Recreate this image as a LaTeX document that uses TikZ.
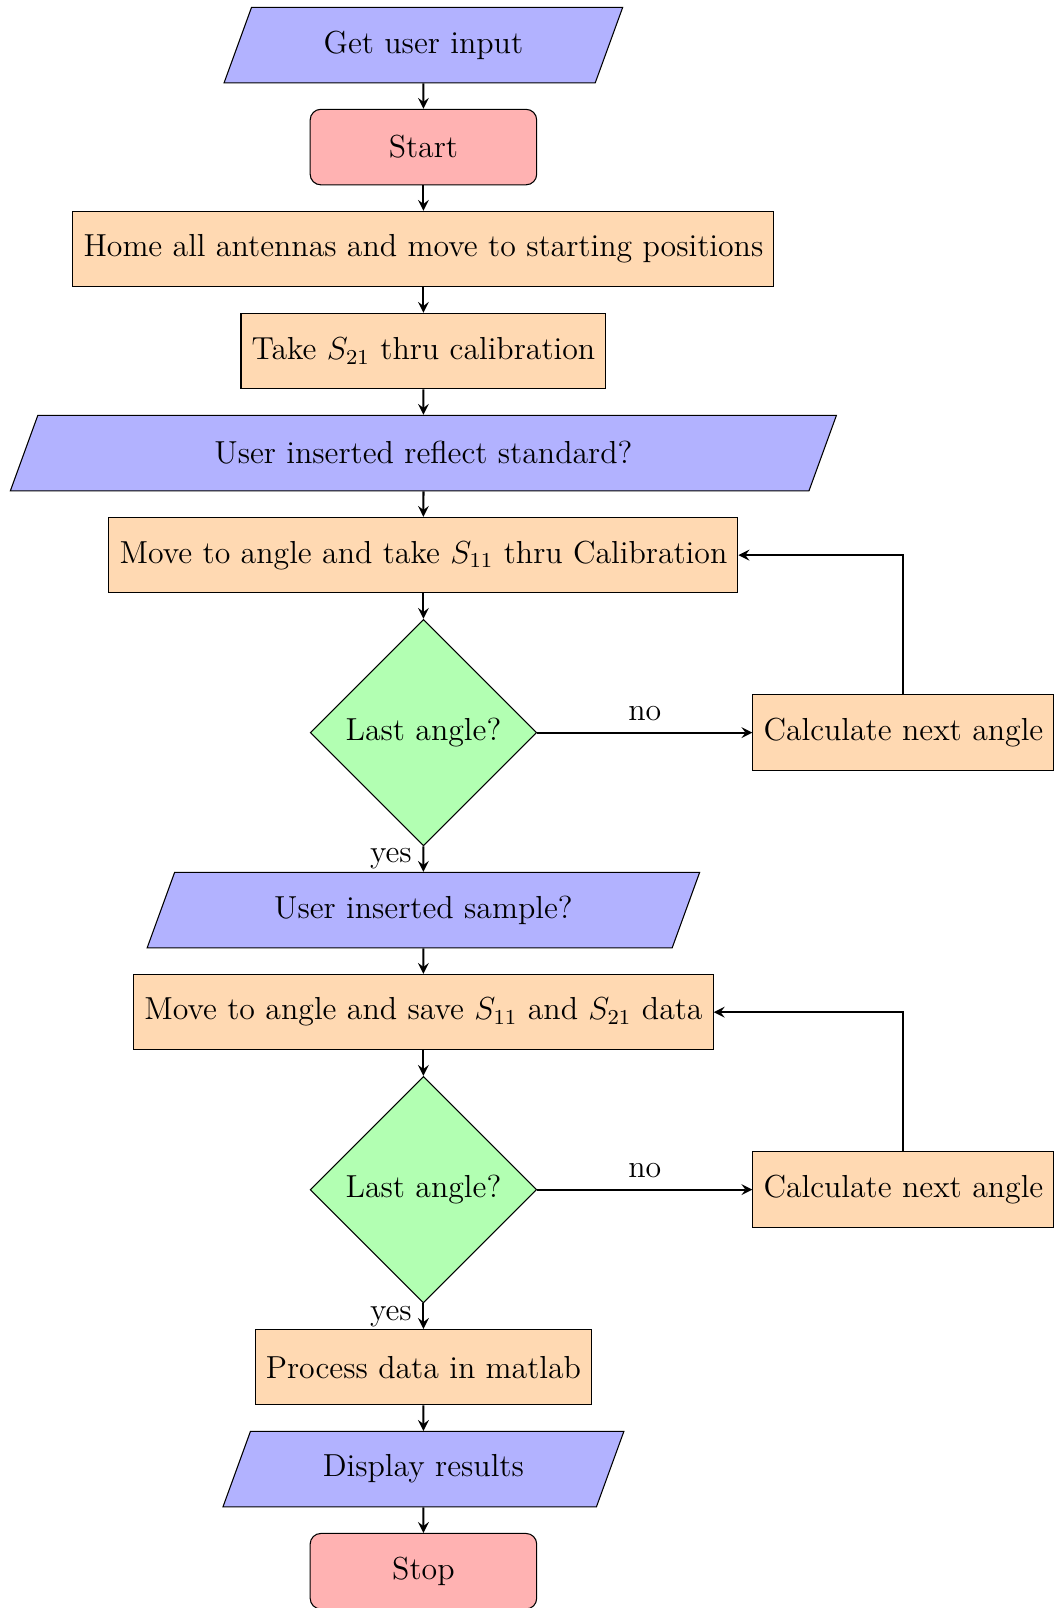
\documentclass[tikz,border=0pt,12pt]{standalone}
\usetikzlibrary{shapes.geometric,arrows,positioning}
\tikzset{
  startstop/.style={rectangle, rounded corners, minimum width=3cm, minimum height=1cm, text centered, draw=black, fill=red!30},
  io/.style={trapezium, trapezium left angle=70, trapezium right angle=110, minimum width=3cm, minimum height=1cm, inner ysep=3.75pt, text centered, draw=black, fill=blue!30},
  process/.style={rectangle, minimum width=3cm, minimum height=1cm, text centered, draw=black, fill=orange!30},
  decision/.style={diamond, minimum width=3cm, minimum height=3cm, inner sep=0pt, text centered, draw=black, fill=green!30},
  arrow/.style={thick, ->, >=stealth}
}
\begin{document}
\begin{tikzpicture}[node distance=0.337cm]
\useasboundingbox (-5.608,0.597) rectangle (8.339,-20.701);
% Kalibrierung
\node (in1) [io] {Get user input};
\node (start) [startstop, below=of in1] {Start};
\node (home) [process, below=of start] {Home all antennas and move to starting positions};
\node (thru) [process, below=of home] {Take $S_{21}$ thru calibration};
\node (refl) [io, below=of thru] {User inserted reflect standard?};
\node (move1) [process, below=of refl] {Move to angle and take $S_{11}$ thru Calibration};
\node (dec1) [decision, below=of move1] {Last angle?};
\node (calc1) [process, right=2.85cm of dec1] {Calculate next angle};
% Messung
\node (sample) [io, below=of dec1] {User inserted sample?};
\node (move2) [process, below=of sample] {Move to angle and save $S_{11}$ and $S_{21}$ data};
\node (dec2) [decision, below=of move2] {Last angle?};
\node (calc2) [process, right=2.85cm of dec2] {Calculate next angle};
% Auswertung
\node (proc) [process, below=of dec2] {Process data in matlab};
\node (disp) [io, below=of proc] {Display results};
\node (stop) [startstop, below=of disp] {Stop};
% Pfeile
\draw [arrow] (in1) -- (start);
\draw [arrow] (start) -- (home);
\draw [arrow] (home) -- (thru);
\draw [arrow] (thru) -- (refl);
\draw [arrow] (refl) -- (move1);
\draw [arrow] (move1) -- (dec1);
\draw [arrow] (dec1) -- node[above] {no} (calc1);
\draw [arrow] (calc1) |- (move1);
\draw [arrow] (dec1) -- node[left] {yes} (sample);
\draw [arrow] (sample) -- (move2);
\draw [arrow] (move2) -- (dec2);
\draw [arrow] (dec2) -- node[above] {no} (calc2);
\draw [arrow] (calc2) |- (move2);
\draw [arrow] (dec2) -- node[left] {yes} (proc);
\draw [arrow] (proc) -- (disp);
\draw [arrow] (disp) -- (stop);
\end{tikzpicture}
\end{document}
